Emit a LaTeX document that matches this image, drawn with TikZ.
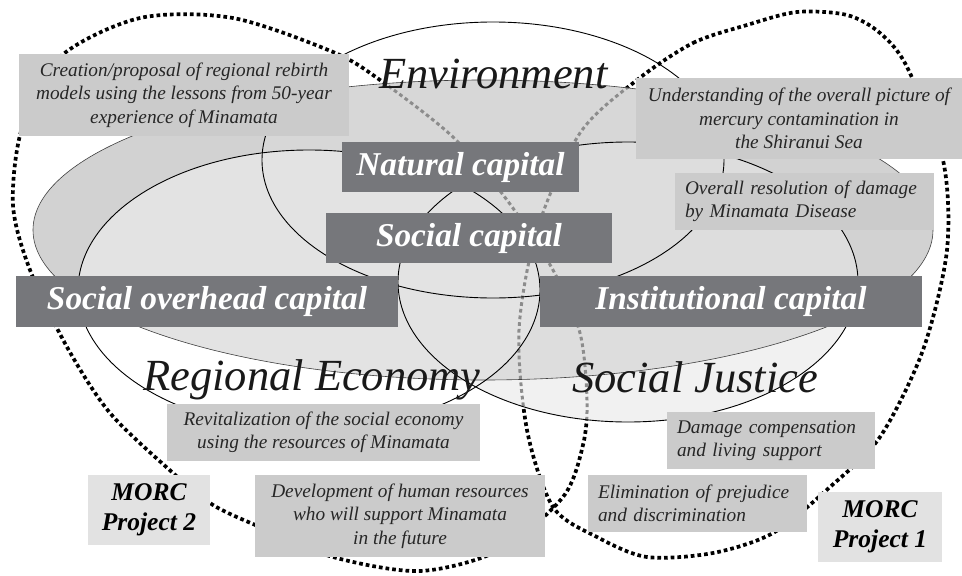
\documentclass[tikz,border=0pt]{standalone}
\usepackage{fontspec}
\setmainfont{Liberation Serif}[
  BoldFont={Liberation Serif Bold},
  ItalicFont={Liberation Serif Italic},
  BoldItalicFont={Liberation Serif Bold Italic}]
\definecolor{capgray}{HTML}{76777B}
\definecolor{notegray}{HTML}{CBCBCB}
\definecolor{morcgray}{HTML}{E2E2E2}
\definecolor{flatgray}{HTML}{D2D2D2}
\definecolor{envgray}{HTML}{D7D7D7}
\definecolor{regray}{HTML}{E3E3E3}
\definecolor{sjgray}{HTML}{DDDDDD}
\definecolor{sjpale}{HTML}{F1F1F1}
\definecolor{dotgray}{HTML}{8C8C8C}

\begin{document}
\begin{tikzpicture}[x=1pt, y=-1pt,
    note/.style = {fill=notegray, text=black!85, inner sep=0pt,
      font=\fontsize{19.3}{23.5}\selectfont\itshape},
    capbox/.style = {fill=capgray, text=white, inner sep=0pt,
      font=\fontsize{33.3}{36}\selectfont\bfseries\itshape},
    morc/.style = {fill=morcgray, inner sep=0pt, align=center,
      font=\fontsize{25.5}{30}\selectfont\bfseries\itshape},
    area/.style = {anchor=base west, inner sep=0pt, text=black!90,
      font=\fontsize{44.5}{48}\selectfont\itshape},
    dotline/.style = {line width=3.7pt, dash pattern=on 3.7pt off 3pt},
    twoloop/.style = {insert path={plot[smooth cycle] coordinates {
      (13,205) (22,128) (60,57) (140,18) (233,18) (333,52) (380,80)
      (453,137) (507,200) (553,270) (580,333) (587,400) (583,445)
      (563,497) (500,550) (420,571) (333,557) (260,527) (213,505)
      (173,473) (110,413) (67,347) (30,270)}}},
    oneloop/.style = {insert path={plot[smooth cycle] coordinates {
      (637,80) (693,43) (747,25) (797,12) (847,15) (880,33) (907,67)
      (943,160) (947,250) (923,350) (880,437) (830,487) (773,533)
      (713,553) (647,557) (597,537) (553,507) (527,430) (519,330)
      (537,230) (580,133)}}}]
  \useasboundingbox (0,0) rectangle (962,576);

  \draw[dotline, twoloop];
  \draw[dotline, oneloop];

  \fill[flatgray] (483,230) ellipse [x radius=450pt, y radius=150pt];
  \fill[sjpale] (628,282) ellipse [x radius=230pt, y radius=140pt];
  \begin{scope}
    \clip (483,230) ellipse [x radius=450pt, y radius=150pt];
    \fill[envgray] (493,160) ellipse [x radius=231pt, y radius=138pt];
    \fill[sjgray] (628,282) ellipse [x radius=230pt, y radius=140pt];
    \fill[regray] (309,290) ellipse [x radius=231pt, y radius=140pt];
  \end{scope}
  \begin{scope}
    \clip (483,230) ellipse [x radius=450pt, y radius=150pt]
      (628,282) ellipse [x radius=230pt, y radius=140pt];
    \draw[dotline, dotgray, line width=3pt, twoloop];
    \draw[dotline, dotgray, line width=3pt, oneloop];
  \end{scope}

  \draw[black!75, line width=0.6pt] (483,230) ellipse [x radius=450pt, y radius=150pt];
  \draw[line width=0.9pt] (493,160) ellipse [x radius=231pt, y radius=138pt];
  \draw[line width=0.9pt] (309,290) ellipse [x radius=231pt, y radius=140pt];
  \draw[line width=0.9pt] (628,282) ellipse [x radius=230pt, y radius=140pt];

  \node[area] (env) at (379,88) {Environment};
  \node[area] (regeco) at (143,390) {Regional Economy};
  \node[area] (sjust) at (572,392) {Social Justice};

  \node[capbox, minimum width=237pt, minimum height=50pt] (natcap) at (460.5,167) {Natural capital};
  \node[capbox, minimum width=286pt, minimum height=50pt] (soccap) at (469,238) {Social capital};
  \node[capbox, minimum width=382pt, minimum height=51pt] (ovhcap) at (207,301.5) {Social overhead capital};
  \node[capbox, minimum width=382pt, minimum height=51pt] (inscap) at (731,301.5) {Institutional capital};

  \node[note, align=center, minimum width=330pt, minimum height=82pt] (rebirth) at (184,95)
    {Creation/proposal of regional rebirth\\models using the lessons from 50-year\\experience of Minamata};
  \node[note, align=center, minimum width=326pt, minimum height=81pt] (mercury) at (799,118.5)
    {Understanding of the overall picture of\\mercury contamination in\\the Shiranui Sea};
  \node[note, align=left, text width=239pt, inner xsep=10pt, minimum height=57pt] (damage) at (804.5,201.5)
    {Overall resolution of damage\\by Minamata Disease};
  \node[note, align=center, minimum width=313pt, minimum height=57pt] (revital) at (323.5,432.5)
    {Revitalization of the social economy\\using the resources of Minamata};
  \node[note, align=center, minimum width=290pt, minimum height=82pt] (human) at (400,516)
    {Development of human resources\\who will support Minamata\\in the future};
  \node[note, align=left, text width=188pt, inner xsep=10pt, minimum height=57pt] (compens) at (771,440.5)
    {Damage compensation\\and living support};
  \node[note, align=left, text width=199pt, inner xsep=10pt, minimum height=57pt] (prejud) at (697.5,503.5)
    {Elimination of prejudice\\and discrimination};

  \node[morc, minimum width=122pt, minimum height=70pt] (morctwo) at (149,510) {MORC\\Project 2};
  \node[morc, minimum width=124pt, minimum height=70pt] (morcone) at (880,527) {MORC\\Project 1};
\end{tikzpicture}
\end{document}
